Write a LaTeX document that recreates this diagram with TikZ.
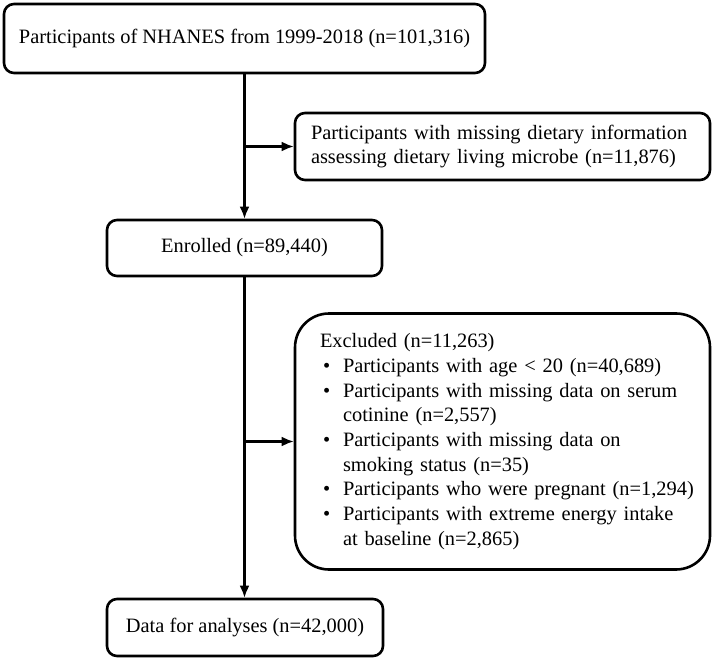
\documentclass[tikz,border=0pt]{standalone}
\usepackage{fontspec}
\setmainfont{Liberation Serif}
\usepackage{enumitem}
\usetikzlibrary{arrows.meta}
\begin{document}
\begin{tikzpicture}[x=1pt, y=-1pt,
    box/.style = {draw, line width=2.6pt, rounded corners=10pt, inner sep=0pt,
                  font=\fontsize{20.4}{24.7}\selectfont},
    flow/.style = {line width=2.2pt, -{Latex[length=12pt,width=10pt]}}]
  \useasboundingbox (0,0) rectangle (714,660);
  \node[box, minimum width=481pt, minimum height=69pt] (all) at (244.5,38.5)
      {Participants of NHANES from 1999-2018 (n=101,316)};
  \node[box, minimum height=67pt, text width=383pt, inner xsep=16pt, align=left] (diet) at (502.5,146.5)
      {Participants with missing dietary information\newline assessing dietary living microbe (n=11,876)};
  \node[box, minimum width=275pt, minimum height=56pt] (enrolled) at (244.5,248)
      {Enrolled (n=89,440)};
  \node[box, rounded corners=34pt, minimum height=256pt, text width=395pt, inner xsep=10pt, align=left] (excl) at (502.5,441.5)
      {\hspace*{15pt}Excluded (n=11,263)
       \begin{itemize}[leftmargin=38pt, labelwidth=8pt, labelsep=12pt, align=left, label=\textbullet,
                       topsep=0pt, partopsep=0pt, itemsep=0pt, parsep=0pt]
       \item Participants with age < 20 (n=40,689)
       \item Participants with missing data on serum\newline cotinine (n=2,557)
       \item Participants with missing data on\newline smoking status (n=35)
       \item Participants who were pregnant (n=1,294)
       \item Participants with extreme energy intake\newline at baseline (n=2,865)
       \end{itemize}};
  \node[box, minimum width=276pt, minimum height=57pt] (data) at (245,627.5)
      {Data for analyses (n=42,000)};
  \coordinate (b1) at (enrolled.north |- diet.west);
  \coordinate (b2) at (enrolled.south |- excl.west);
  \draw[flow] (all.south -| enrolled.north) -- (enrolled.north);
  \draw[flow] (b1) -- (diet.west);
  \draw[flow] (enrolled.south) -- (data.north -| enrolled.south);
  \draw[flow] (b2) -- (excl.west);
\end{tikzpicture}
\end{document}
